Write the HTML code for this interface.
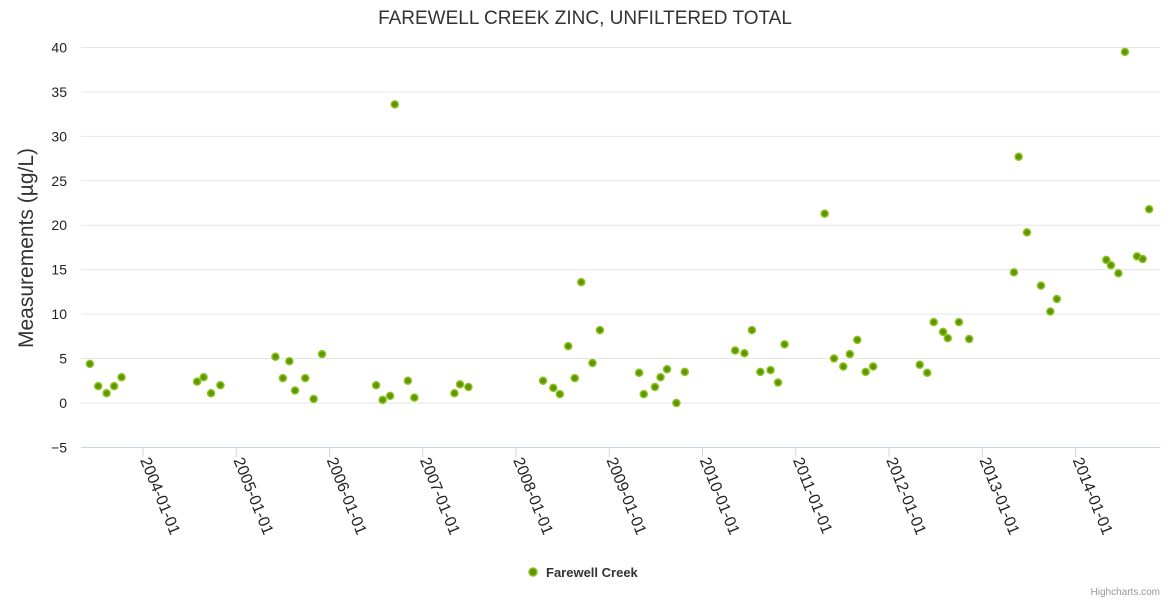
<!DOCTYPE html>
<html><head><meta charset="utf-8"><style>
html,body{margin:0;padding:0;background:#fff;}
svg{display:block;font-family:"Liberation Sans","DejaVu Sans",sans-serif;}
</style></head><body>
<svg id="chart" width="1170" height="600" xmlns="http://www.w3.org/2000/svg">
<text x="585" y="24" text-anchor="middle" font-size="19" fill="#333">FAREWELL CREEK ZINC, UNFILTERED TOTAL</text>
<text transform="translate(33,248) rotate(-90)" text-anchor="middle" font-size="21" fill="#333">Measurements (µg/L)</text>
<g id="grid"></g><g id="xaxis"></g><g id="points"></g>
<g>
<circle cx="533" cy="572" r="4" fill="#5e9600" stroke="#8dc21f" stroke-width="1.5"/>
<text x="546" y="577" font-size="13" font-weight="bold" fill="#333">Farewell Creek</text>
</g>
<text x="1160" y="595" text-anchor="end" font-size="10" fill="#999">Highcharts.com</text>
</svg>
<script>
const years=[2003.43,2003.52,2003.61,2003.69,2003.77,2004.58,2004.65,2004.73,2004.83,2005.42,2005.50,2005.57,2005.63,2005.74,2005.83,2005.92,2006.50,2006.57,2006.65,2006.70,2006.84,2006.91,2007.34,2007.40,2007.49,2008.29,2008.40,2008.47,2008.56,2008.63,2008.70,2008.82,2008.90,2009.32,2009.37,2009.49,2009.55,2009.62,2009.72,2009.81,2010.35,2010.45,2010.53,2010.62,2010.73,2010.81,2010.88,2011.31,2011.41,2011.51,2011.58,2011.66,2011.75,2011.83,2012.33,2012.41,2012.48,2012.58,2012.63,2012.75,2012.86,2013.34,2013.39,2013.48,2013.63,2013.73,2013.80,2014.33,2014.38,2014.46,2014.53,2014.66,2014.72,2014.79];
const values=[4.4,1.9,1.1,1.9,2.9,2.4,2.9,1.1,2.0,5.2,2.8,4.7,1.4,2.8,0.45,5.5,2.0,0.35,0.8,33.6,2.5,0.6,1.1,2.1,1.8,2.5,1.7,1.0,6.4,2.8,13.6,4.5,8.2,3.4,1.0,1.8,2.9,3.8,0.0,3.5,5.9,5.6,8.2,3.5,3.7,2.3,6.6,21.3,5.0,4.1,5.5,7.1,3.5,4.1,4.3,3.4,9.1,8.0,7.3,9.1,7.2,14.7,27.7,19.2,13.2,10.3,11.7,16.1,15.5,14.6,39.5,16.5,16.2,21.8];
const yTicks=[-5,0,5,10,15,20,25,30,35,40];
const xTickYears=[2004,2005,2006,2007,2008,2009,2010,2011,2012,2013,2014];
const xTickLabels=["2004-01-01","2005-01-01","2006-01-01","2007-01-01","2008-01-01","2009-01-01","2010-01-01","2011-01-01","2012-01-01","2013-01-01","2014-01-01"];
const NS="http://www.w3.org/2000/svg";
const L=81,R=1160;
function xs(y){return 143+(y-2004)*93.25;}
function ys(v){return 403-v*(400/45);}
const grid=document.getElementById('grid');
yTicks.forEach(t=>{
  const y=ys(t);
  const ln=document.createElementNS(NS,'line');
  ln.setAttribute('x1',L);ln.setAttribute('x2',R);ln.setAttribute('y1',y);ln.setAttribute('y2',y);
  ln.setAttribute('stroke',t===-5?'#ccd6eb':'#e6e6e6');
  
  
  grid.appendChild(ln);
  const tx=document.createElementNS(NS,'text');
  tx.setAttribute('x',67);tx.setAttribute('y',y+5);tx.setAttribute('text-anchor','end');
  tx.setAttribute('font-size','14');tx.setAttribute('fill','#222');
  tx.textContent=t===-5?'\u22125':String(t);
  
  
  grid.appendChild(tx);
});
const xa=document.getElementById('xaxis');
xTickYears.forEach((yr,i)=>{
  const x=xs(yr);
  const tk=document.createElementNS(NS,'line');
  tk.setAttribute('x1',x);tk.setAttribute('x2',x);tk.setAttribute('y1',447);tk.setAttribute('y2',457);
  tk.setAttribute('stroke','#ccd6eb');
  
  
  xa.appendChild(tk);
  const tx=document.createElementNS(NS,'text');
  tx.setAttribute('transform','translate('+(x-3)+',460) rotate(68)');
  tx.setAttribute('font-size','16');tx.setAttribute('fill','#222');
  tx.textContent=xTickLabels[i];
  
  
  xa.appendChild(tx);
});
const pg=document.getElementById('points');
years.forEach((yr,i)=>{
  const c=document.createElementNS(NS,'circle');
  c.setAttribute('cx',xs(yr));c.setAttribute('cy',ys(values[i]));c.setAttribute('r',3.5);
  c.setAttribute('fill','#5e9600');c.setAttribute('stroke','#8dc21f');c.setAttribute('stroke-width','1.5');
  
  
  pg.appendChild(c);
});
</script>
</body></html>
